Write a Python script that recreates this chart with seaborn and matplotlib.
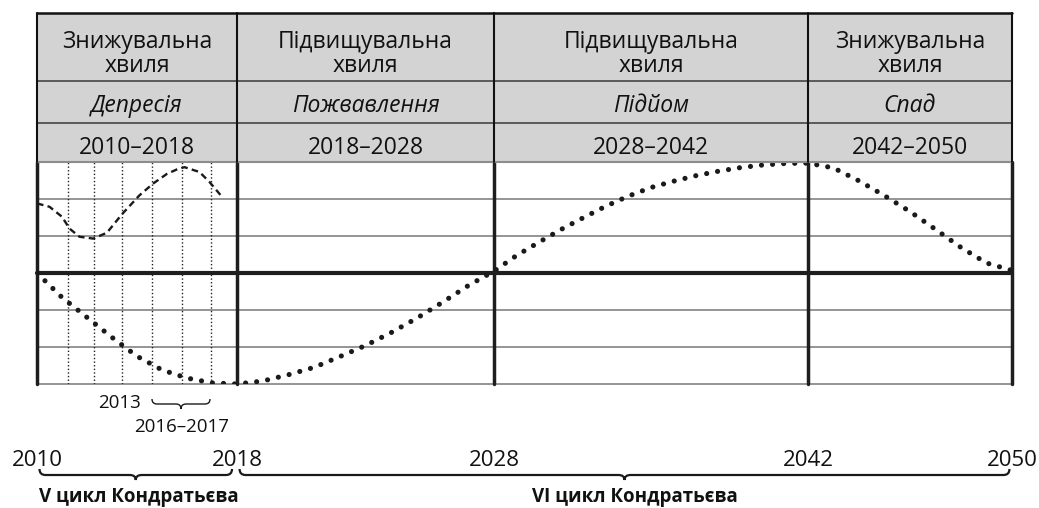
import numpy as np
import pandas as pd
import matplotlib
matplotlib.use('Agg')
import matplotlib.pyplot as plt
import seaborn as sns
from matplotlib.path import Path
from matplotlib.patches import PathPatch, Rectangle

# data
period_bounds = [2010, 2018, 2028, 2042, 2050]
wave_labels = ['Знижувальна\nхвиля', 'Підвищувальна\nхвиля',
               'Підвищувальна\nхвиля', 'Знижувальна\nхвиля']
phase_labels = ['Депресія', 'Пожвавлення', 'Підйом', 'Спад']
period_labels = ['2010–2018', '2018–2028', '2028–2042', '2042–2050']

years = list(range(2010, 2051))
wave_values = [3.00, 2.34, 1.80, 1.26, 0.75, 0.38, 0.16, 0.03, 0.00,
               0.08, 0.25, 0.45, 0.74, 1.04, 1.39, 1.78, 2.21, 2.66, 3.05,
               3.47, 3.83, 4.18, 4.50, 4.81, 5.08, 5.31, 5.48, 5.63, 5.75,
               5.85, 5.92, 5.96, 5.97,
               5.84, 5.49, 5.09, 4.66, 4.18, 3.69, 3.27, 3.07]

inset_years = [2010.0, 2010.5, 2011.0, 2011.3, 2011.7, 2012.25, 2012.8, 2013.4,
               2014.1, 2014.65, 2015.2, 2015.6, 2015.9, 2016.5, 2016.9, 2017.4]
inset_values = [4.88, 4.79, 4.52, 4.20, 3.98, 3.93, 4.09, 4.59,
                5.10, 5.42, 5.68, 5.80, 5.86, 5.73, 5.46, 5.06]
inset_marks = [2011.25, 2012.3, 2013.4, 2014.6, 2015.8, 2016.95]

cycle_labels = ['V цикл Кондратьєва', 'VI цикл Кондратьєва']
cycle_spans = [(2010.1, 2017.8), (2018.1, 2049.9)]
cycle_label_x = [2010.1, 2029.7]

# layout (pixels)
W, H = 1039, 508
col_px = [37, 237, 494, 808, 1012]
row_px = [13, 81, 123, 162]
plot_bottom = 384

sns.set_theme(style='white')
plt.rcParams['font.family'] = ['Open Sans', 'DejaVu Sans']

fig = plt.figure(figsize=(W / 100, H / 100), dpi=100)
ax = fig.add_axes([col_px[0] / W, 1 - plot_bottom / H,
                   (col_px[-1] - col_px[0]) / W, (plot_bottom - row_px[-1]) / H])


def fwd(x):
    return np.interp(x, period_bounds, col_px)


def inv(p):
    return np.interp(p, col_px, period_bounds)


ax.set_xscale('function', functions=(fwd, inv))
ax.set_xlim(2010, 2050)
ax.set_ylim(0, 6)
ax.set_xticks([])
ax.set_yticks([])
for s in ax.spines.values():
    s.set_visible(False)

# grid of the table
for yv in [0, 1, 2, 4, 5, 6]:
    ax.axhline(yv, color='#8c8c8c', lw=1.3, zorder=1, clip_on=False)
ax.axhline(3, color='#1e1e1e', lw=3.0, zorder=2, clip_on=False)
for xb in period_bounds:
    ax.axvline(xb, color='#1e1e1e', lw=2.5, zorder=2, clip_on=False)
for xm in inset_marks:
    ax.axvline(xm, color='#222222', lw=1.0, ls=(0, (1, 1.6)), zorder=1)

df_wave = pd.DataFrame({'year': years, 'value': wave_values})
df_inset = pd.DataFrame({'year': inset_years, 'value': inset_values})

sns.lineplot(data=df_wave, x='year', y='value', ax=ax, color='#1a1a1a',
             linewidth=3.7, linestyle=(0, (0.01, 2.15)),
             dash_capstyle='round', zorder=4)
sns.lineplot(data=df_inset, x='year', y='value', ax=ax, color='#1a1a1a',
             linewidth=1.7, linestyle=(0, (2.8, 1.8)), zorder=4)
ax.set_xlabel('')
ax.set_ylabel('')

# overlay in pixel coordinates for header and annotations
ov = fig.add_axes([0, 0, 1, 1])
ov.set_xlim(0, W)
ov.set_ylim(H, 0)
ov.axis('off')

ov.add_patch(Rectangle((col_px[0], row_px[0]), col_px[-1] - col_px[0],
                       row_px[-1] - row_px[0], facecolor='#d3d3d3',
                       edgecolor='none', zorder=0))
ov.plot([col_px[0], col_px[-1]], [row_px[0], row_px[0]], color='#111111', lw=1.8)
for yr in row_px[1:3]:
    ov.plot([col_px[0], col_px[-1]], [yr, yr], color='#3a3a3a', lw=1.1)
ov.plot([col_px[0], col_px[-1]], [row_px[-1], row_px[-1]], color='#8c8c8c', lw=1.5)
for xc in col_px:
    ov.plot([xc, xc], [row_px[0], row_px[-1]], color='#111111', lw=1.5)

hdr_fs = 16.5
for i in range(4):
    cx = (col_px[i] + col_px[i + 1]) / 2
    l1, l2 = wave_labels[i].split('\n')
    ov.text(cx, 48, l1, ha='center', va='baseline', fontsize=hdr_fs, color='#111111')
    ov.text(cx, 71.5, l2, ha='center', va='baseline', fontsize=hdr_fs, color='#111111')
    ov.text(cx, 111.5, phase_labels[i], ha='center', va='baseline', fontsize=hdr_fs,
            style='italic', color='#111111')
    ov.text(cx, 154, period_labels[i], ha='center', va='baseline', fontsize=hdr_fs,
            color='#111111')

# year labels under the chart
for yb in period_bounds:
    ov.text(fwd(yb), 466, str(yb), ha='center', va='baseline', fontsize=16,
            color='#111111')
ov.text(fwd(2013.3), 408, '2013', ha='center', va='baseline', fontsize=13.5,
        color='#111111')
ov.text(fwd(2015.8), 432, '2016–2017', ha='center', va='baseline', fontsize=13.5,
        color='#111111')


def brace(x0, x1, y_end, y_line, y_tip, r, lw=1.4):
    xc = (x0 + x1) / 2
    verts = [(x0, y_end), (x0, y_line), (x0 + r, y_line), (xc - r, y_line),
             (xc, y_line), (xc, y_tip), (xc, y_line), (xc + r, y_line),
             (x1 - r, y_line), (x1, y_line), (x1, y_end)]
    codes = [Path.MOVETO, Path.CURVE3, Path.CURVE3, Path.LINETO,
             Path.CURVE3, Path.CURVE3, Path.CURVE3, Path.CURVE3,
             Path.LINETO, Path.CURVE3, Path.CURVE3]
    ov.add_patch(PathPatch(Path(verts, codes), facecolor='none',
                           edgecolor='#1a1a1a', lw=lw))


brace(fwd(2014.6), fwd(2016.92), 399, 404, 409, 5, lw=1.0)
for (a, b), lab, lx in zip(cycle_spans, cycle_labels, cycle_label_x):
    brace(fwd(a), fwd(b), 469, 475, 480, 6, lw=1.6)
    ov.text(fwd(lx), 502, lab, ha='left', va='baseline', fontsize=13.5,
            fontweight='bold', color='#111111')

fig.savefig('out.png', dpi=100)
